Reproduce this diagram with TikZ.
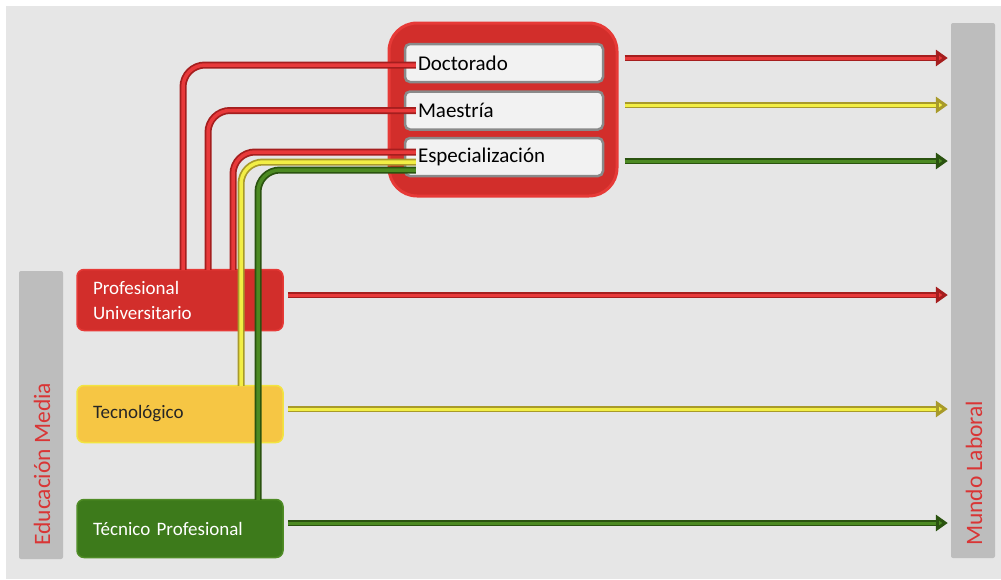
\documentclass[tikz,border=0pt]{standalone}
\usepackage{fontspec}
\setmainfont{Carlito}
\usetikzlibrary{arrows.meta,calc}
\definecolor{bg}{HTML}{E6E6E6}
\definecolor{barg}{HTML}{BDBDBD}
\definecolor{lblred}{HTML}{D93535}
\definecolor{redbox}{HTML}{D22E2B}
\definecolor{redrim}{HTML}{E63A37}
\definecolor{redline}{HTML}{E8393A}
\definecolor{reddark}{HTML}{A51E1E}
\definecolor{yelbox}{HTML}{F6C644}
\definecolor{yelrim}{HTML}{F2E440}
\definecolor{yelline}{HTML}{F2EE45}
\definecolor{yeldark}{HTML}{A89A2A}
\definecolor{grnbox}{HTML}{3D7A1B}
\definecolor{grnrim}{HTML}{4F8C26}
\definecolor{grnline}{HTML}{4C8A22}
\definecolor{grndark}{HTML}{2A530F}
\definecolor{innerf}{HTML}{F2F2F2}
\definecolor{innerd}{HTML}{8A8A8A}
\newcommand{\flowarrow}[4]{%
  \draw[line width=6.5pt, draw=#2, -{Triangle[length=12pt,width=16pt,fill=#1]}] #3 -- #4;
  \draw[line width=3pt, draw=#1, shorten >=12pt] #3 -- #4;}
\newcommand{\conline}[4]{%
  \draw[rounded corners=22pt, line width=7pt, draw=#2] #3 -| #4;
  \draw[rounded corners=22pt, line width=3.5pt, draw=#1] #3 -| #4;}
\begin{document}
\begin{tikzpicture}[x=1pt,y=-1pt,
  sidebar/.style={rectangle, fill=barg, rounded corners=2pt, minimum width=44pt, inner sep=0pt},
  sidelabel/.style={rotate=90, anchor=base west, inner sep=0pt, text=lblred, font=\fontsize{23.5}{28}\selectfont},
  levelbox/.style={rectangle, rounded corners=7pt, line width=1.5pt, minimum width=206pt, text width=174pt, inner xsep=16pt, align=left, font=\fontsize{19}{25}\selectfont},
  innerbox/.style={rectangle, rounded corners=5pt, fill=innerf, draw=innerd, line width=2.5pt, minimum width=198pt, minimum height=38pt, text width=172pt, inner xsep=13pt, inner ysep=0pt, align=left, font=\fontsize{21}{24}\selectfont}
]
\useasboundingbox (0,0) rectangle (1001,579);
\fill[bg] (6,6) rectangle (1001,579);
% side bars
\node[sidebar, minimum height=288pt] (em) at (41,415) {};
\node[sidebar, minimum height=535pt] (ml) at (973,290.5) {};
\node[sidelabel] (emt) at (50,546) {Educación Media};
\node[sidelabel] (mlt) at (982,546) {Mundo Laboral};
% level boxes
\node[levelbox, fill=redbox, draw=redrim, minimum height=61pt, text=white] (pu) at (180,300) {Profesional\\Universitario};
\node[levelbox, fill=yelbox, draw=yelrim, minimum height=57pt, text=black!85] (tec) at (180,414) {Tecnológico};
\node[levelbox, fill=grnbox, draw=grnrim, minimum height=58pt, text=white] (tpr) at (180,528.5) {Técnico Profesional};
% postgraduate block
\node[rectangle, rounded corners=28pt, fill=redbox, draw=redrim, line width=3pt, minimum width=228pt, minimum height=173pt] (big) at (503,109.5) {};
\node[innerbox] (doc) at (504,63) {Doctorado};
\node[innerbox] (mae) at (504,110.5) {Maestría};
\node[innerbox] (esp) at (504,157) {Especialización};
% connectors
\conline{redline}{reddark}{($(doc.west)+(12,2)$)}{($(pu.north)+(3,1)$)}
\conline{redline}{reddark}{($(mae.west)+(12,0)$)}{($(pu.north)+(28,1)$)}
\conline{redline}{reddark}{($(esp.west)+(12,-5)$)}{($(pu.north)+(53,1)$)}
\conline{yelline}{yeldark}{($(esp.west)+(12,5)$)}{($(tec.north)+(61,1)$)}
\conline{grnline}{grndark}{($(esp.west)+(12,13)$)}{($(tpr.north)+(78,1)$)}
% arrows to Mundo Laboral
\flowarrow{redline}{reddark}{($(big.east|-doc.east)+(6,-5)$)}{($(ml.west|-doc.east)+(-3,-5)$)}
\flowarrow{yelline}{yeldark}{($(big.east|-mae.east)+(6,-5.5)$)}{($(ml.west|-mae.east)+(-3,-5.5)$)}
\flowarrow{grnline}{grndark}{($(big.east|-esp.east)+(6,4)$)}{($(ml.west|-esp.east)+(-3,4)$)}
\flowarrow{redline}{reddark}{($(pu.east)+(4,-5)$)}{($(ml.west|-pu.east)+(-3,-5)$)}
\flowarrow{yelline}{yeldark}{($(tec.east)+(4,-5)$)}{($(ml.west|-tec.east)+(-3,-5)$)}
\flowarrow{grnline}{grndark}{($(tpr.east)+(4,-5.5)$)}{($(ml.west|-tpr.east)+(-3,-5.5)$)}
\end{tikzpicture}
\end{document}
